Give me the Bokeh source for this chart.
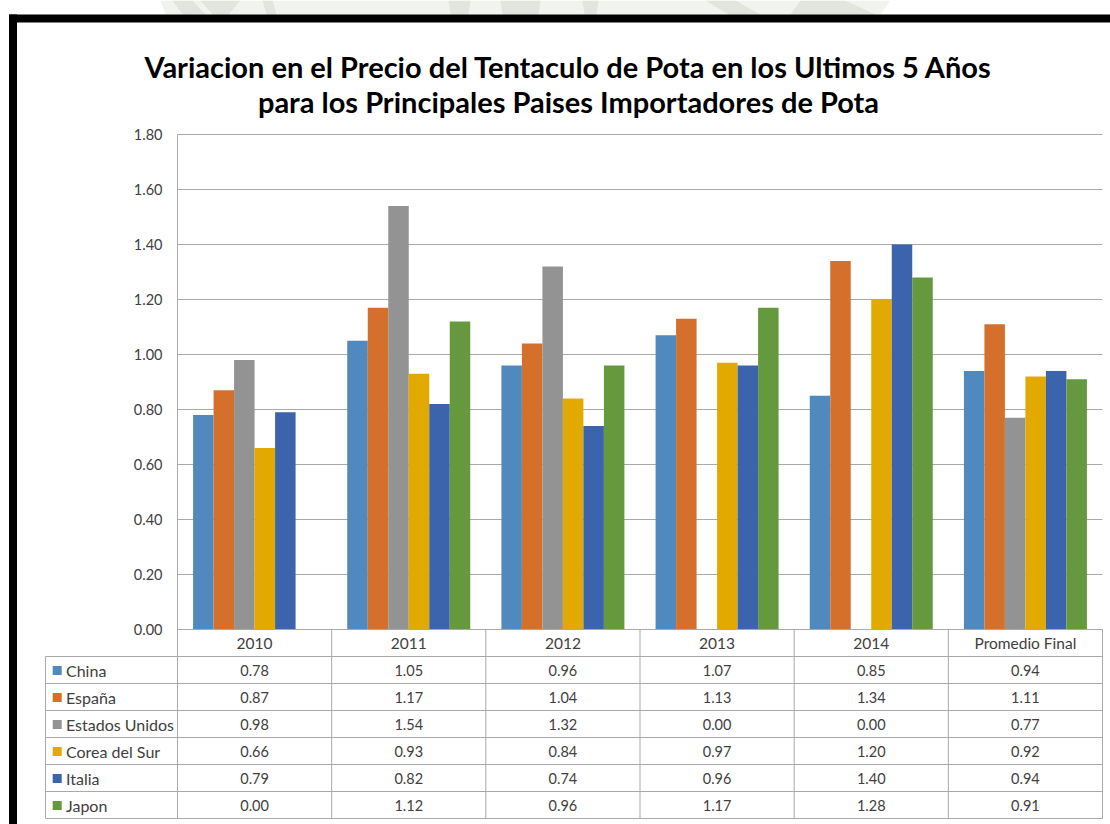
from bokeh.plotting import figure
from bokeh.models import Range1d, ColumnDataSource
from bokeh.embed import file_html
from bokeh.resources import INLINE
from bokeh.core.properties import value

# ---------------- data ----------------
title_lines = ["Variacion en el Precio del Tentaculo de Pota en los Ultimos 5 Años",
               "para los Principales Paises Importadores de Pota"]
categories = ["2010", "2011", "2012", "2013", "2014", "Promedio Final"]
series_names = ["China", "España", "Estados Unidos", "Corea del Sur", "Italia", "Japon"]
china = [0.78, 1.05, 0.96, 1.07, 0.85, 0.94]
espana = [0.87, 1.17, 1.04, 1.13, 1.34, 1.11]
estados_unidos = [0.98, 1.54, 1.32, 0.00, 0.00, 0.77]
corea_del_sur = [0.66, 0.93, 0.84, 0.97, 1.20, 0.92]
italia = [0.79, 0.82, 0.74, 0.96, 1.40, 0.94]
japon = [0.00, 1.12, 0.96, 1.17, 1.28, 0.91]
y_ticks = [0.0, 0.2, 0.4, 0.6, 0.8, 1.0, 1.2, 1.4, 1.6, 1.8]
y_tick_labels = ["0.00", "0.20", "0.40", "0.60", "0.80", "1.00", "1.20", "1.40", "1.60", "1.80"]
colors = ["#4F89BD", "#D46F2C", "#939393", "#E2AA00", "#3B64AD", "#64993D"]

all_series = [china, espana, estados_unidos, corea_del_sur, italia, japon]

# ---------------- layout constants (pixels) ----------------
FIG_W, FIG_H = 1110, 824
PLOT_LEFT_PX = 177          # left edge of plot area
PLOT_RIGHT_PX = 1102        # right edge of plot area
BASE_PX = 629               # y pixel of the 0.00 baseline
UNIT_PX = 275.0             # pixels per value unit
ROW_PX = 27.0               # table row height
FONT = value("Lato")
TXT = "#404040"
GRID = "#a9a9a9"

ncat = len(categories)
nser = len(series_names)
CAT_PX = (PLOT_RIGHT_PX - PLOT_LEFT_PX) / ncat


def px_x(px):
    return (px - PLOT_LEFT_PX) / CAT_PX


def px_y(py):
    return (BASE_PX - py) / UNIT_PX


p = figure(width=FIG_W, height=FIG_H, output_backend="svg", toolbar_location=None,
           x_range=Range1d(px_x(0), px_x(FIG_W)), y_range=Range1d(px_y(FIG_H), px_y(0)),
           min_border=0, outline_line_color=None, background_fill_color="white",
           border_fill_color="white")
p.axis.visible = False
p.grid.visible = False

# ---------------- faint watermark remnants above the frame ----------------
wm_light = [[(160, 0), (890, 0), (880, 14), (165, 14)]]
wm_dark = [
    [(172, 0), (192, 0), (205, 14), (182, 14)],
    [(200, 0), (240, 0), (228, 14), (212, 14)],
    [(262, 0), (272, 0), (276, 14), (266, 14)],
    [(448, 0), (470, 0), (468, 14), (450, 14)],
    [(500, 0), (540, 0), (538, 14), (502, 14)],
    [(582, 0), (598, 0), (596, 14), (584, 14)],
    [(705, 0), (735, 0), (760, 14), (728, 14)],
    [(800, 0), (845, 0), (875, 14), (790, 14)],
]
for group, col in ((wm_light, "#f1f3ef"), (wm_dark, "#e1e5de")):
    p.patches(xs=[[px_x(a) for a, b in poly] for poly in group],
              ys=[[px_y(b) for a, b in poly] for poly in group],
              fill_color=col, line_color=None)

# ---------------- black frame ----------------
p.quad(left=[px_x(8.5), px_x(8.5)], right=[px_x(FIG_W), px_x(16.5)],
       top=[px_y(14), px_y(14)], bottom=[px_y(22), px_y(FIG_H)],
       fill_color="black", line_color=None)

# ---------------- title ----------------
title_x = px_x(568)
p.text(x=[title_x, title_x], y=[px_y(65.7), px_y(101)], text=title_lines,
       text_font=FONT, text_font_style="bold", text_font_size="29px",
       text_color="black", text_align="center", text_baseline="alphabetic")

# ---------------- gridlines and y tick labels ----------------
p.segment(x0=[0] * len(y_ticks), x1=[ncat] * len(y_ticks), y0=y_ticks, y1=y_ticks,
          line_color=GRID, line_width=1)
p.text(x=[px_x(162)] * len(y_ticks), y=y_ticks, text=y_tick_labels,
       text_font=FONT, text_font_size="14.5px", text_color=TXT,
       text_align="right", text_baseline="middle")

# ---------------- bars ----------------
bar_w = 20.5 / CAT_PX
for j, (vals, col) in enumerate(zip(all_series, colors)):
    xs = [i + 0.5 + (j - (nser - 1) / 2) * bar_w for i in range(ncat)]
    src = ColumnDataSource(dict(x=xs, top=vals))
    p.vbar(x="x", top="top", bottom=0, width=bar_w, source=src,
           fill_color=col, line_color=None)

# ---------------- data table ----------------
row_h = ROW_PX / UNIT_PX
table_left = px_x(45)

# horizontal lines
hy = [-(k + 1) * row_h for k in range(nser + 1)]
p.segment(x0=[table_left] * len(hy), x1=[ncat] * len(hy), y0=hy, y1=hy,
          line_color=GRID, line_width=1)
p.segment(x0=[0], x1=[ncat], y0=[0], y1=[0], line_color=GRID, line_width=1)
# vertical lines
p.segment(x0=[0], x1=[0], y0=[y_ticks[-1]], y1=[hy[-1]], line_color=GRID, line_width=1)
vx = list(range(1, ncat + 1))
p.segment(x0=vx, x1=vx, y0=[0] * len(vx), y1=[hy[-1]] * len(vx),
          line_color=GRID, line_width=1)
p.segment(x0=[table_left], x1=[table_left], y0=[hy[0]], y1=[hy[-1]],
          line_color=GRID, line_width=1)

# header labels
p.text(x=[i + 0.5 for i in range(ncat)], y=[-0.5 * row_h] * ncat, text=categories,
       text_font=FONT, text_font_size="15.5px", text_color=TXT,
       text_align="center", text_baseline="middle")

# legend keys + names
row_centers = [-(k + 1.5) * row_h for k in range(nser)]
p.scatter(x=[px_x(56.7)] * nser, y=[c - 0.5 / UNIT_PX for c in row_centers],
          marker="square", size=9, fill_color=colors, line_color=None)
p.text(x=[px_x(65.5)] * nser, y=row_centers, text=series_names,
       text_font=FONT, text_font_size="16px", text_color=TXT,
       text_align="left", text_baseline="middle")

# values
cx, cy, ct = [], [], []
for k, vals in enumerate(all_series):
    for i, v in enumerate(vals):
        cx.append(i + 0.5)
        cy.append(row_centers[k])
        ct.append(f"{v:.2f}")
p.text(x=cx, y=cy, text=ct, text_font=FONT, text_font_size="14.5px", text_color=TXT,
       text_align="center", text_baseline="middle")

open("out.html", "w").write(file_html(p, INLINE))
